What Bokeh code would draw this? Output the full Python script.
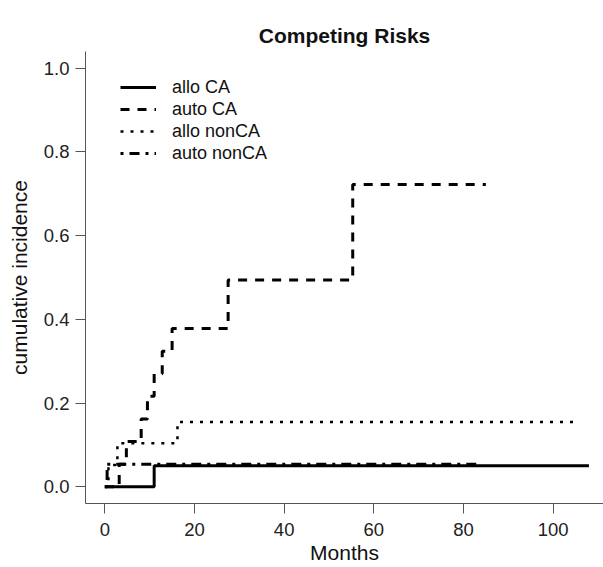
from bokeh.plotting import figure
from bokeh.models import Range1d, FixedTicker, Legend, LegendItem, PrintfTickFormatter, Title
from bokeh.embed import file_html
from bokeh.resources import INLINE

# ---- data ----
allo_ca_t = [0, 11.0, 108.0]
allo_ca_y = [0, 0.050, 0.050]

auto_ca_t = [0, 3.2, 4.8, 8.1, 9.5, 11.0, 12.8, 15.0, 27.5, 55.3, 85.0]
auto_ca_y = [0, 0.054, 0.108, 0.162, 0.216, 0.270, 0.324, 0.378, 0.494, 0.722, 0.722]

allo_nonca_t = [0, 0.8, 2.8, 16.2, 106.0]
allo_nonca_y = [0, 0.052, 0.104, 0.155, 0.155]

auto_nonca_t = [0, 0.5, 83.0]
auto_nonca_y = [0, 0.054, 0.054]

series_names = ["allo CA", "auto CA", "allo nonCA", "auto nonCA"]
x_ticks = [0, 20, 40, 60, 80, 100]
y_ticks = [0.0, 0.2, 0.4, 0.6, 0.8, 1.0]
x_label = "Months"
y_label = "cumulative incidence"

FONT = "Liberation Sans"

p = figure(width=603, height=567,
           x_range=Range1d(-4.32, 111.25), y_range=Range1d(-0.04, 1.04),
           output_backend="svg", toolbar_location=None,
           min_border_left=85, min_border_right=0, min_border_top=51, min_border_bottom=64,
           title="Competing Risks")
p.title.align = "center"
p.title.text_font = FONT
p.title.text_font_size = "21px"
p.title.text_font_style = "bold"
p.title.text_color = "#111111"

p.outline_line_color = None
p.xgrid.visible = False
p.ygrid.visible = False

for ax in (p.xaxis[0], p.yaxis[0]):
    ax.axis_line_color = "#555555"
    ax.major_tick_line_color = "#555555"
    ax.major_tick_out = 10
    ax.major_tick_in = 0
    ax.minor_tick_out = 0
    ax.minor_tick_in = 0
    ax.major_label_text_font = FONT
    ax.major_label_text_font_size = "18.5px"
    ax.major_label_text_color = "#222222"
    ax.axis_label_text_font = FONT
    ax.axis_label_text_font_size = "21px"
    ax.axis_label_text_font_style = "normal"
    ax.axis_label_text_color = "#111111"

p.xaxis.ticker = FixedTicker(ticks=x_ticks)
p.yaxis.ticker = FixedTicker(ticks=y_ticks)
p.yaxis.formatter = PrintfTickFormatter(format="%.1f")
p.yaxis.axis_label = y_label
p.xaxis.major_label_standoff = 9
p.yaxis.major_label_standoff = 6
p.yaxis.axis_label_standoff = 10

# x-axis title as a "below" title panel
p.add_layout(Title(text=x_label, align="center", text_font=FONT, text_font_size="21px",
                   text_font_style="normal", text_color="#111111",
                   text_line_height=0.8, standoff=0, offset=0), "below")

r1 = p.step(allo_ca_t, allo_ca_y, mode="after", line_color="black", line_width=3)
r2 = p.step(auto_ca_t, auto_ca_y, mode="after", line_color="black", line_width=3,
            line_dash="9 8")
r3 = p.step(allo_nonca_t, allo_nonca_y, mode="after", line_color="black", line_width=2.5,
            line_dash="3 7")
r4 = p.step(auto_nonca_t, auto_nonca_y, mode="after", line_color="black", line_width=3,
            line_dash="3 6 10 6")

legend = Legend(items=[LegendItem(label=n, renderers=[r]) for n, r in
                       zip(series_names, [r1, r2, r3, r4])],
                location=(35, 339), border_line_alpha=0, background_fill_alpha=0,
                glyph_width=36, glyph_height=22, label_height=22, label_standoff=16,
                spacing=0, padding=0, margin=0,
                label_text_font=FONT, label_text_font_size="18px", label_text_color="#111111")
p.add_layout(legend)

open("out.html", "w").write(file_html(p, INLINE))
